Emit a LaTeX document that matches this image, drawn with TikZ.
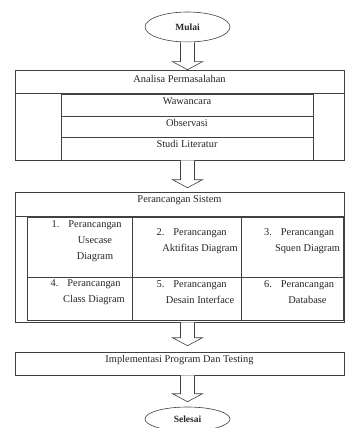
\documentclass[tikz,border=0pt]{standalone}
\usepackage{fontspec}
\setmainfont{Liberation Serif}
\usetikzlibrary{calc,shapes.geometric}
\tikzset{
  ln/.style={draw=black!75, line width=0.6pt},
  frame/.style={ln, rectangle, inner sep=0pt},
  lbl/.style={font=\fontsize{10.4}{16}\selectfont, inner sep=0pt, text=black!85},
  term/.style={ln, ellipse, minimum width=85pt, inner sep=0pt, text=black!85,
               font=\bfseries\fontsize{9.5}{11}\selectfont},
  blockarrow/.style={ln, fill=white, line join=miter},
}
\newcommand\blockarrow[3]{%
  \draw[blockarrow] let \p1=(#1), \p2=(#2) in
    (\x1-7pt,\y1) -- (\x1-7pt,\y2+#3+8pt) -- (\x1-15pt,\y2+#3+8pt) -- (\x1,\y2+#3)
    -- (\x1+15pt,\y2+#3+8pt) -- (\x1+7pt,\y2+#3+8pt) -- (\x1+7pt,\y1);}
\begin{document}
\begin{tikzpicture}[x=1pt,y=-1pt]
\useasboundingbox (0,0) rectangle (345,428);
\fill[white] (0,0) rectangle (345,428);

% start
\node[term, minimum height=30pt] (mulai) at (187.5,27) {Mulai};

% Analisa Permasalahan
\node[frame, minimum width=329pt, minimum height=90pt] (analisa) at (179.5,115) {};
\node[lbl] (analisaT) at (179.5,79) {Analisa Permasalahan};
\node[frame, minimum width=252pt, minimum height=22pt] (wawancara) at (187,105) {};
\node[frame, minimum width=252pt, minimum height=21pt] (observasi) at (187,126.5) {};
\node[frame, minimum width=252pt, minimum height=23pt] (studi) at (187,148.5) {};
\draw[ln] (analisa.west |- wawancara.north) -- (analisa.east |- wawancara.north);
\node[lbl] at (187,101) {Wawancara};
\node[lbl] at (187,123) {Observasi};
\node[lbl] at (187,144) {Studi Literatur};

% Perancangan Sistem
\node[frame, minimum width=329pt, minimum height=130pt] (perancangan) at (179.5,257) {};
\node[lbl] (perancanganT) at (179.5,200) {Perancangan Sistem};
\node[frame, minimum width=105pt, minimum height=60pt] (c1) at (79.5,247) {};
\node[frame, minimum width=109pt, minimum height=60pt] (c2) at (186.5,247) {};
\node[frame, minimum width=102pt, minimum height=60pt] (c3) at (292,247) {};
\node[frame, minimum width=105pt, minimum height=43pt] (c4) at (79.5,298.5) {};
\node[frame, minimum width=109pt, minimum height=43pt] (c5) at (186.5,298.5) {};
\node[frame, minimum width=102pt, minimum height=43pt] (c6) at (292,298.5) {};
\draw[ln] (perancangan.west |- c1.north) -- (perancangan.east |- c1.north);
\node[lbl, align=center] at (95,241) {\llap{1.\hspace{9pt}}Perancangan\\Usecase\\Diagram};
\node[lbl, align=center] at (200,241.5) {\llap{2.\hspace{9pt}}Perancangan\\Aktifitas Diagram};
\node[lbl, align=center] at (307.5,241.5) {\llap{3.\hspace{9pt}}Perancangan\\Squen Diagram};
\node[lbl, align=center] at (94,292.5) {\llap{4.\hspace{9pt}}Perancangan\\Class Diagram};
\node[lbl, align=center] at (200,292.5) {\llap{5.\hspace{9pt}}Perancangan\\Desain Interface};
\node[lbl, align=center] at (307.5,292.5) {\llap{6.\hspace{9pt}}Perancangan\\Database};

% Implementasi
\node[frame, minimum width=329pt, minimum height=23pt] (implementasi) at (179.5,363.5) {};
\node[lbl] at (179.5,360) {Implementasi Program Dan Testing};

% end
\node[term, minimum height=24pt] (selesai) at (187.5,419) {Selesai};

% arrows
\blockarrow{mulai.south}{mulai.south |- analisa.north}{0pt}
\blockarrow{mulai.south |- analisa.south}{mulai.south |- perancangan.north}{4pt}
\blockarrow{mulai.south |- perancangan.south}{mulai.south |- implementasi.north}{6pt}
\blockarrow{mulai.south |- implementasi.south}{selesai.north}{5pt}
\end{tikzpicture}
\end{document}
